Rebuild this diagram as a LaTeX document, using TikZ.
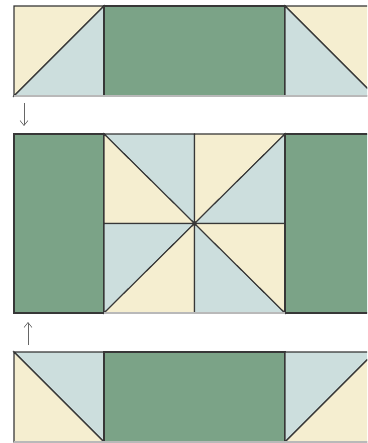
\documentclass[tikz,border=0pt]{standalone}
\usepackage{xcolor}
\usepackage{tikz}
\usetikzlibrary{arrows.meta}
\definecolor{quiltcream}{RGB}{245,238,208}
\definecolor{quiltblue}{RGB}{204,222,221}
\definecolor{quiltgreen}{RGB}{123,163,135}
\definecolor{seamgray}{RGB}{55,55,55}

\begin{document}
\begin{tikzpicture}[x=1pt, y=-1pt,
  seam/.style={draw=seamgray, line width=1.1pt},
  cream/.style={seam, fill=quiltcream},
  pale/.style={seam, fill=quiltblue},
  strip/.style={seam, fill=quiltgreen},
  hem/.style={draw=gray!55, line width=1.1pt},
  arr/.style={-{Straight Barb[length=5pt, width=8pt]}, draw=gray!80!black, line width=0.6pt},
]
  \useasboundingbox (0,0) rectangle (367,443);
  \clip (0,0) rectangle (367,443);

  % top row
  \path[cream] (14,6) -- (104,6) -- (14,96) -- cycle;
  \path[pale]  (104,6) -- (104,96) -- (14,96) -- cycle;
  \path[strip] (104,6) rectangle (285,96);
  \path[cream] (285,6) -- (375,6) -- (375,96) -- cycle;
  \path[pale]  (285,6) -- (375,96) -- (285,96) -- cycle;
  \draw[hem] (14,96) -- (375,96);

  % middle row
  \path[strip] (14,134) rectangle (104,313);
  \coordinate (mid) at (194.5,223.5);
  \path[pale]  (104,134) -- (194.5,134) -- (mid) -- cycle;
  \path[cream] (104,134) -- (mid) -- (104,223.5) -- cycle;
  \path[cream] (194.5,134) -- (285,134) -- (mid) -- cycle;
  \path[pale]  (285,134) -- (285,223.5) -- (mid) -- cycle;
  \path[pale]  (104,223.5) -- (mid) -- (104,313) -- cycle;
  \path[cream] (mid) -- (194.5,313) -- (104,313) -- cycle;
  \path[pale]  (mid) -- (194.5,313) -- (285,313) -- cycle;
  \path[cream] (mid) -- (285,223.5) -- (285,313) -- cycle;
  \path[strip] (285,134) rectangle (375,313);
  \draw[hem] (104,313) -- (285,313);

  % bottom row
  \path[pale]  (14,352) -- (104,352) -- (104,442) -- cycle;
  \path[cream] (14,352) -- (104,442) -- (14,442) -- cycle;
  \path[strip] (104,352) rectangle (285,442);
  \path[pale]  (285,352) -- (375,352) -- (285,442) -- cycle;
  \path[cream] (375,352) -- (375,442) -- (285,442) -- cycle;
  \draw[hem] (14,442) -- (375,442);

  % arrows
  \coordinate (downfrom) at (24,103);
  \coordinate (downto) at (24,126);
  \coordinate (upfrom) at (28,345);
  \coordinate (upto) at (28,322);
  \draw[arr] (downfrom) -- (downto);
  \draw[arr] (upfrom) -- (upto);
\end{tikzpicture}
\end{document}
